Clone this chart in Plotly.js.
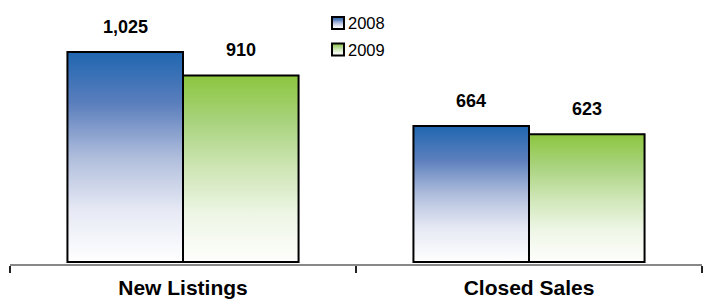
<!DOCTYPE html>
<html>
<head>
<meta charset="utf-8">
<script src="https://cdn.plot.ly/plotly-3.0.1.min.js"></script>
<style>html,body{margin:0;padding:0;background:#fff;}#chart{width:708px;height:301px;}</style>
</head>
<body>
<div id="chart"></div>
<script>
const categories = ["New Listings", "Closed Sales"];
const seriesNames = ["2008", "2009"];
const values2008 = [1025, 664];
const values2009 = [910, 623];

const FONT = "Liberation Sans, Arial, sans-serif";
const bargap = 0.332;
const gradients = [
  [[0, "#1f66b0"], [0.25, "#5c7fbd"], [0.5, "#afbddc"], [0.75, "#e6e9f4"], [1, "#ffffff"]],
  [[0, "#8cc63f"], [0.25, "#a9d37e"], [0.5, "#cfe6b6"], [0.75, "#eef6e6"], [1, "#fefefc"]]
];

const allSeries = [values2008, values2009];
const traces = allSeries.map((vals, i) => ({
  type: "bar",
  name: seriesNames[i],
  x: categories,
  y: vals,
  legendgroup: "g" + i,
  marker: {color: gradients[i][1][1], line: {color: "#000000", width: 2}},
  hoverinfo: "skip"
}));

const halfBar = (1 - bargap) / 4;
const annotations = [];
allSeries.forEach((vals, i) => {
  vals.forEach((v, j) => {
    annotations.push({
      x: j + (i === 0 ? -halfBar : halfBar),
      y: v,
      xref: "x", yref: "y",
      text: v.toLocaleString("en-US"),
      showarrow: false,
      yanchor: "bottom",
      yshift: 13,
      font: {family: FONT, size: 18, color: "#000", weight: "bold"}
    });
  });
});

const layout = {
  width: 708, height: 301,
  margin: {l: 10, r: 6, t: 10, b: 37},
  paper_bgcolor: "#ffffff", plot_bgcolor: "#ffffff",
  barmode: "group", bargap: bargap, bargroupgap: 0,
  showlegend: true,
  legend: {
    x: (318 - 10) / 692, y: 1.05, xanchor: "left", yanchor: "top",
    font: {family: FONT, size: 16.5, color: "#000"},
    tracegroupgap: 2, bgcolor: "rgba(0,0,0,0)", itemwidth: 30
  },
  xaxis: {
    type: "category",
    tickson: "boundaries", ticks: "outside", ticklen: 7, tickwidth: 2, tickcolor: "#222",
    showline: true, linecolor: "#888", linewidth: 1.5,
    showgrid: false, zeroline: false, ticklabelstandoff: 4,
    tickfont: {family: FONT, size: 21, color: "#000", weight: "bold"},
    fixedrange: true
  },
  yaxis: {visible: false, range: [-9.45, 1190.3], showgrid: false, zeroline: false, fixedrange: true},
  annotations: annotations,
  font: {family: FONT}
};

Plotly.newPlot("chart", traces, layout, {staticPlot: true, displayModeBar: false}).then(gd => {
  const svgNS = "http://www.w3.org/2000/svg";
  const svg = gd.querySelector(".main-svg");
  let defs = svg.querySelector("defs");
  if (!defs) { defs = document.createElementNS(svgNS, "defs"); svg.insertBefore(defs, svg.firstChild); }
  gradients.forEach((stops, i) => {
    const lg = document.createElementNS(svgNS, "linearGradient");
    lg.setAttribute("id", "barGrad" + i);
    lg.setAttribute("x1", "0"); lg.setAttribute("y1", "0");
    lg.setAttribute("x2", "0"); lg.setAttribute("y2", "1");
    stops.forEach(s => {
      const st = document.createElementNS(svgNS, "stop");
      st.setAttribute("offset", s[0]);
      st.setAttribute("stop-color", s[1]);
      lg.appendChild(st);
    });
    defs.appendChild(lg);
  });
  gd.querySelectorAll(".barlayer .trace").forEach((t, i) => {
    t.querySelectorAll("path").forEach(p => { p.style.fill = "url(#barGrad" + i + ")"; });
  });
  gd.querySelectorAll(".legend .traces").forEach((t, i) => {
    t.querySelectorAll(".legendpoints path").forEach(p => { p.style.fill = "url(#barGrad" + i + ")"; });
    const txt = t.querySelector(".legendtext");
    if (txt) txt.setAttribute("x", 30);
  });
});
</script>
</body>
</html>
